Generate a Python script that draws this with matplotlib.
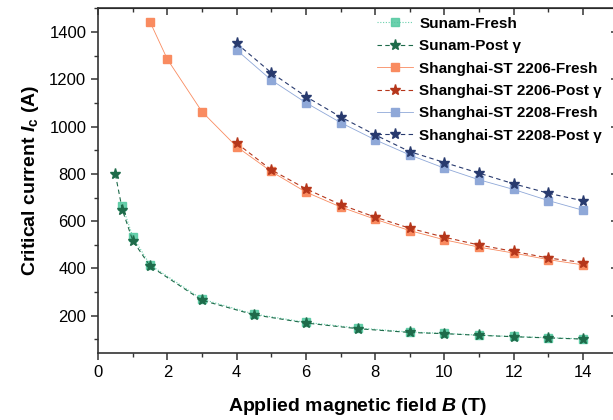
import matplotlib
matplotlib.use("Agg")
import matplotlib.pyplot as plt
from matplotlib.ticker import MultipleLocator

plt.rcParams['font.family'] = ['Liberation Sans', 'DejaVu Sans']
plt.rcParams['mathtext.fontset'] = 'custom'
plt.rcParams['mathtext.rm'] = 'Liberation Sans:bold'
plt.rcParams['mathtext.it'] = 'Liberation Sans:italic:bold'
plt.rcParams['mathtext.bf'] = 'Liberation Sans:bold'

# Sunam
sunam_fresh_B = [0.7, 1, 1.5, 3, 4.5, 6, 7.5, 9, 10, 11, 12, 13, 14]
sunam_fresh_Ic = [665, 535, 415, 270, 207, 172, 148, 131, 125, 118, 112, 107, 102]
sunam_post_B = [0.5, 0.7, 1, 1.5, 3, 4.5, 6, 7.5, 9, 10, 11, 12, 13, 14]
sunam_post_Ic = [798, 648, 518, 410, 265, 204, 169, 145, 129, 124, 117, 111, 106, 101]

# Shanghai-ST 2206
sh2206_fresh_B = [1.5, 2, 3, 4, 5, 6, 7, 8, 9, 10, 11, 12, 13, 14]
sh2206_fresh_Ic = [1443, 1285, 1063, 915, 810, 723, 660, 608, 560, 521, 490, 465, 437, 415]
sh2206_post_B = [4, 5, 6, 7, 8, 9, 10, 11, 12, 13, 14]
sh2206_post_Ic = [930, 817, 737, 670, 617, 570, 532, 499, 472, 444, 425]

# Shanghai-ST 2208
sh2208_fresh_B = [4, 5, 6, 7, 8, 9, 10, 11, 12, 13, 14]
sh2208_fresh_Ic = [1324, 1197, 1101, 1017, 944, 880, 824, 775, 734, 687, 646]
sh2208_post_B = [4, 5, 6, 7, 8, 9, 10, 11, 12, 13, 14]
sh2208_post_Ic = [1352, 1228, 1127, 1041, 965, 894, 848, 803, 758, 718, 686]

fig = plt.figure(figsize=(6.13, 4.2), dpi=100)
ax = fig.add_axes([0.16, 0.16, 0.8475, 0.82])

ax.plot(sunam_fresh_B, sunam_fresh_Ic, color='#52c9a0', ls=(0, (1, 1.5)), lw=0.8, marker='s', ms=6,
        mec='#52c9a0', alpha=0.85, label='Sunam-Fresh')
ax.plot(sunam_post_B, sunam_post_Ic, color='#1e6b4a', ls=(0, (4, 3)), lw=0.8, marker='*', ms=8,
        label='Sunam-Post γ')
ax.plot(sh2206_fresh_B, sh2206_fresh_Ic, color='#f98b60', ls='-', lw=0.6, marker='s', ms=6,
        label='Shanghai-ST 2206-Fresh')
ax.plot(sh2206_post_B, sh2206_post_Ic, color='#b5361b', ls=(0, (4, 3)), lw=0.8, marker='*', ms=8,
        label='Shanghai-ST 2206-Post γ')
ax.plot(sh2208_fresh_B, sh2208_fresh_Ic, color='#8fa8d8', ls='-', lw=0.6, marker='s', ms=6,
        label='Shanghai-ST 2208-Fresh')
ax.plot(sh2208_post_B, sh2208_post_Ic, color='#283a6e', ls=(0, (4, 3)), lw=0.8, marker='*', ms=8,
        label='Shanghai-ST 2208-Post γ')

ax.set_xlim(0, 15)
ax.set_ylim(43, 1500)
ax.xaxis.set_major_locator(MultipleLocator(2))
ax.xaxis.set_minor_locator(MultipleLocator(1))
ax.yaxis.set_minor_locator(MultipleLocator(100))
ax.set_yticks([200, 400, 600, 800, 1000, 1200, 1400])

ax.tick_params(axis='both', which='both', direction='out', labelsize=12, color='#333333')
ax.tick_params(which='major', length=5, width=1.1)
ax.tick_params(which='minor', length=3, width=1.0)
for sp in ax.spines.values():
    sp.set_linewidth(1.2)
    sp.set_color('#333333')

# inward mirror ticks on top and right
top = ax.secondary_xaxis('top')
top.set_xticks(range(0, 16, 2))
top.xaxis.set_minor_locator(MultipleLocator(1))
top.tick_params(which='both', direction='in', labeltop=False, color='#333333')
top.tick_params(which='major', length=5, width=1.1)
top.tick_params(which='minor', length=3, width=1.0)
right = ax.secondary_yaxis('right')
right.set_yticks([200, 400, 600, 800, 1000, 1200, 1400])
right.yaxis.set_minor_locator(MultipleLocator(100))
right.tick_params(which='both', direction='in', labelright=False, color='#333333')
right.tick_params(which='major', length=5, width=1.1)
right.tick_params(which='minor', length=3, width=1.0)

ax.set_xlabel(r'Applied magnetic field $B$ (T)', fontsize=14, fontweight='bold', labelpad=12)
ax.set_ylabel(r'Critical current $I_\mathrm{c}$ (A)', fontsize=14, fontweight='bold', labelpad=6)

ax.legend(loc='upper left', bbox_to_anchor=(0.52, 1.0), frameon=False,
          prop={'weight': 'bold', 'size': 11}, handlelength=2.4, labelspacing=0.55,
          borderaxespad=0.15, handletextpad=0.4)

fig.savefig('out.png', dpi=100)
